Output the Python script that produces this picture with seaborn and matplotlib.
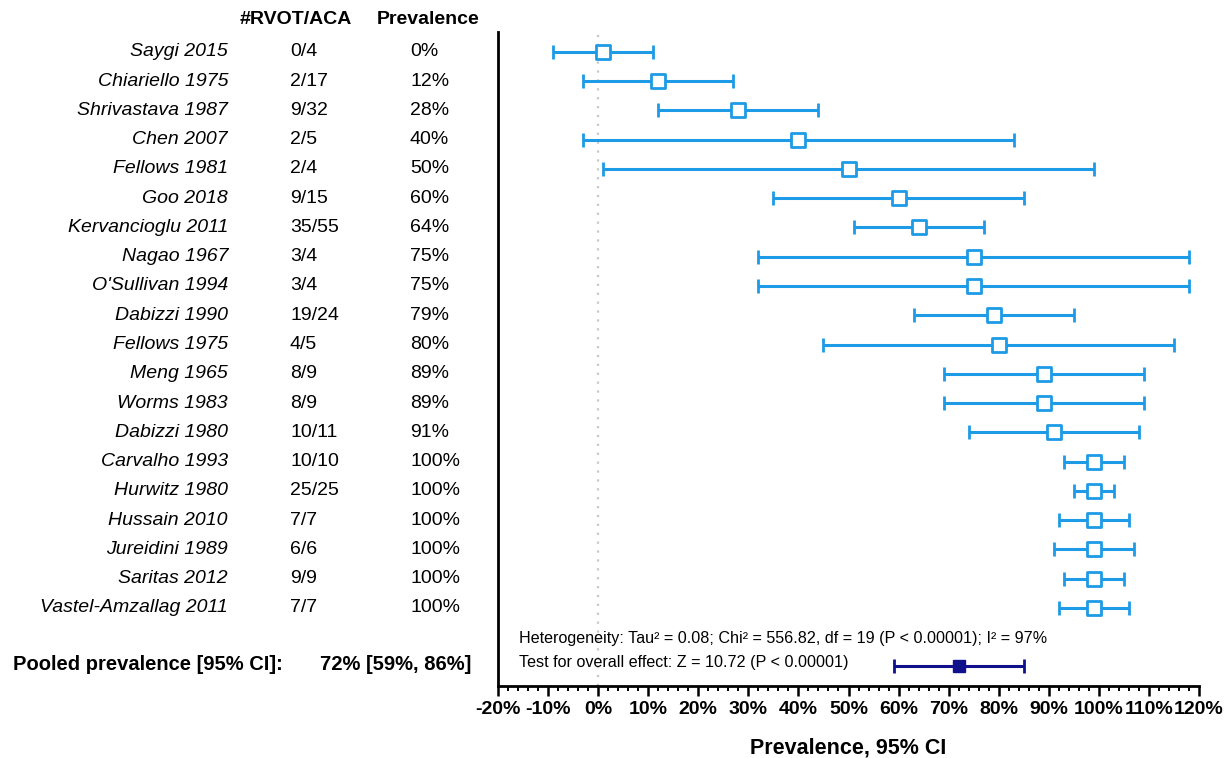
import matplotlib
matplotlib.use("Agg")
import matplotlib.pyplot as plt
import matplotlib.transforms as mtransforms
from matplotlib import font_manager
from matplotlib.ticker import MultipleLocator, FuncFormatter
import seaborn as sns
import pandas as pd
import numpy as np

studies = ["Saygi 2015", "Chiariello 1975", "Shrivastava 1987", "Chen 2007", "Fellows 1981",
           "Goo 2018", "Kervancioglu 2011", "Nagao 1967", "O'Sullivan 1994", "Dabizzi 1990",
           "Fellows 1975", "Meng 1965", "Worms 1983", "Dabizzi 1980", "Carvalho 1993",
           "Hurwitz 1980", "Hussain 2010", "Jureidini 1989", "Saritas 2012", "Vastel-Amzallag 2011"]
counts = ["0/4", "2/17", "9/32", "2/5", "2/4", "9/15", "35/55", "3/4", "3/4", "19/24",
          "4/5", "8/9", "8/9", "10/11", "10/10", "25/25", "7/7", "6/6", "9/9", "7/7"]
prev_labels = ["0%", "12%", "28%", "40%", "50%", "60%", "64%", "75%", "75%", "79%",
               "80%", "89%", "89%", "91%", "100%", "100%", "100%", "100%", "100%", "100%"]
est = [1, 12, 28, 40, 50, 60, 64, 75, 75, 79, 80, 89, 89, 91, 99, 99, 99, 99, 99, 99]
lo = [-9, -3, 12, -3, 1, 35, 51, 32, 32, 63, 45, 69, 69, 74, 93, 95, 92, 91, 93, 92]
hi = [11, 27, 44, 83, 99, 85, 77, 118, 118, 95, 115, 109, 109, 108, 105, 103, 106, 107, 105, 106]
pooled_est = 72
pooled_lo = 59
pooled_hi = 85
pooled_text = "72% [59%, 86%]"
het_text = "Heterogeneity: Tau\u00b2 = 0.08; Chi\u00b2 = 556.82, df = 19 (P < 0.00001); I\u00b2 = 97%"
test_text = "Test for overall effect: Z = 10.72 (P < 0.00001)"

df = pd.DataFrame({"study": studies, "est": est, "lo": lo, "hi": hi})
df["row"] = np.arange(len(df))

sns.set_theme(style="white")
plt.rcParams["font.family"] = ["Liberation Sans", "DejaVu Sans"]
plt.rcParams["text.color"] = "black"
plt.rcParams["axes.labelcolor"] = "black"
plt.rcParams["xtick.color"] = "black"
plt.rcParams["xtick.labelcolor"] = "black"

names = {f.name for f in font_manager.fontManager.ttflist}
narrow = "Liberation Sans Narrow" if "Liberation Sans Narrow" in names else "Liberation Sans"
het_size = 13.5 if narrow == "Liberation Sans Narrow" else 11.6

W, H = 1231, 758
fig = plt.figure(figsize=(W / 100, H / 100), dpi=100)
ax = fig.add_axes([498 / W, 1 - 686 / H, (1199 - 498) / W, (686 - 32) / H])

blue = "#1e9be6"
navy = "#10108c"

ax.axvline(0, color="#c8c8c8", lw=1.6, ls=(0, (1, 3)), zorder=1)
ax.errorbar(df["est"], df["row"], xerr=[df["est"] - df["lo"], df["hi"] - df["est"]],
            fmt="none", ecolor=blue, elinewidth=2.2, capsize=5, capthick=2.0, zorder=2)
sns.scatterplot(data=df, x="est", y="row", marker="s", s=95, facecolor="white",
                edgecolor=blue, linewidth=2.0, ax=ax, zorder=3)

prow = 21.0
ax.errorbar([pooled_est], [prow], xerr=[[pooled_est - pooled_lo], [pooled_hi - pooled_est]],
            fmt="s", color=navy, ms=8, elinewidth=2.2, capsize=5, capthick=2.0, zorder=3)

ax.set_xlim(-20, 120)
ax.set_ylim(21.67, -0.68)
ax.set_yticks([])
ax.set_ylabel("")
ax.xaxis.set_major_locator(MultipleLocator(10))
ax.xaxis.set_minor_locator(MultipleLocator(2))
ax.xaxis.set_major_formatter(FuncFormatter(lambda v, p: f"{int(round(v))}%"))
for s in ["top", "right"]:
    ax.spines[s].set_visible(False)
for s in ["left", "bottom"]:
    ax.spines[s].set_color("black")
    ax.spines[s].set_linewidth(2.0)
ax.tick_params(axis="x", which="major", direction="out", length=7, width=1.8, color="black",
               labelcolor="black", bottom=True, labelsize=14, pad=4)
ax.tick_params(axis="x", which="minor", direction="out", length=3.5, width=1.4, color="black", bottom=True)
for lab in ax.get_xticklabels():
    lab.set_fontweight("bold")
ax.set_xlabel("Prevalence, 95% CI", fontsize=15.5, fontweight="bold", labelpad=14, color="black")

tr = mtransforms.blended_transform_factory(fig.transFigure, ax.transData)
for i in range(len(studies)):
    ax.text(228 / W, i, studies[i], transform=tr, ha="right", va="center", fontsize=14,
            style="italic", color="black", clip_on=False)
    ax.text(290 / W, i, counts[i], transform=tr, ha="left", va="center", fontsize=14,
            color="black", clip_on=False)
    ax.text(410 / W, i, prev_labels[i], transform=tr, ha="left", va="center", fontsize=14,
            color="black", clip_on=False)

ax.text(240 / W, -1.12, "#RVOT/ACA", transform=tr, ha="left", va="center", fontsize=14,
        fontweight="bold", color="black", clip_on=False)
ax.text(377 / W, -1.12, "Prevalence", transform=tr, ha="left", va="center", fontsize=14,
        fontweight="bold", color="black", clip_on=False)

ax.text(13 / W, 20.95, "Pooled prevalence [95% CI]:", transform=tr, ha="left", va="center",
        fontsize=14.5, fontweight="bold", color="black", clip_on=False)
ax.text(320 / W, 20.95, pooled_text, transform=tr, ha="left", va="center",
        fontsize=14.5, fontweight="bold", color="black", clip_on=False)

ax.text(519 / W, 20.03, het_text, transform=tr, ha="left", va="center", fontsize=het_size,
        family=[narrow, "DejaVu Sans"], color="black", clip_on=False)
ax.text(519 / W, 20.85, test_text, transform=tr, ha="left", va="center", fontsize=het_size,
        family=[narrow, "DejaVu Sans"], color="black", clip_on=False)

fig.savefig("out.png", dpi=100, facecolor="white")
